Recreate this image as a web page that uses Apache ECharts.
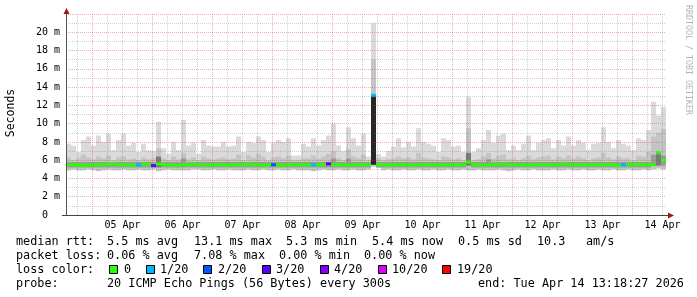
<!DOCTYPE html>
<html><head><meta charset="utf-8">
<script src="https://cdn.jsdelivr.net/npm/echarts@6/dist/echarts.min.js"></script>
<style>html,body{margin:0;padding:0;background:#fff}#c{width:697px;height:297px}</style>
</head><body><div id="c"></div>
<script>
// ---- time frame (hours relative to 05 Apr 00:00) ----
const START_HOUR = -10.6;
const END_HOUR = 229.4;
const STEP_HOURS = 2;
const dayLabels = ['05 Apr','06 Apr','07 Apr','08 Apr','09 Apr','10 Apr','11 Apr','12 Apr','13 Apr','14 Apr'];
const dayLabelHours = [12,36,60,84,108,132,156,180,204,228];

// ---- smoke (ms), one value per 2-hour bucket ----
const smokeMax = [
7.8,7.6,6.9,8.2,8.6,7.6,8.7,8.0,8.9,7.1,8.2,8.9,7.6,7.9,6.9,7.8,7.1,7.0,10.2,7.3,6.7,8.0,7.1,10.4,
7.6,7.9,6.7,8.2,7.6,7.5,7.5,8.0,7.5,7.6,8.6,6.9,8.0,7.9,8.6,8.2,6.9,7.9,8.2,8.0,8.4,6.5,6.5,7.8,
7.5,8.4,7.6,8.2,8.7,10.0,7.6,7.0,9.6,8.4,7.6,8.9,6.4,21.0,6.7,6.4,7.0,7.5,8.4,7.4,8.0,7.5,9.5,8.0,
7.8,7.6,6.9,8.4,8.2,7.5,7.6,6.9,12.9,6.9,7.3,8.2,9.3,7.9,8.7,8.9,7.1,7.6,7.1,7.8,8.7,7.1,7.9,8.2,
8.4,7.3,8.2,7.6,8.6,7.6,8.2,7.9,7.1,7.8,7.9,9.6,8.0,7.3,8.2,7.8,7.6,7.1,8.4,8.2,9.3,12.4,10.9,11.8];
const smokeMin = [
4.9,5.0,4.9,4.9,5.0,4.9,4.8,4.9,5.0,4.9,4.9,5.0,4.9,4.9,5.0,4.9,4.9,5.0,4.8,4.9,5.0,4.9,4.9,4.9,
4.9,5.0,5.0,4.9,4.9,5.0,4.9,4.9,5.0,4.9,4.9,4.9,5.0,4.9,4.9,5.0,4.9,4.9,5.0,4.9,4.9,5.0,4.9,4.9,
4.9,4.8,4.9,5.0,4.9,4.9,5.0,4.9,4.9,5.0,4.9,4.9,5.0,5.3,5.2,4.9,5.0,4.9,4.9,5.0,4.9,4.9,5.0,4.9,
4.9,5.0,4.9,4.9,5.0,4.9,4.9,5.0,4.9,4.9,5.0,4.9,4.9,4.9,5.0,4.9,4.8,4.9,5.0,4.9,4.9,5.0,4.9,4.9,
4.9,5.0,4.9,4.9,5.0,4.9,4.9,5.0,4.9,4.9,5.0,4.9,4.9,5.0,4.9,4.9,5.0,4.9,4.9,5.0,4.9,5.0,5.1,5.0];
const smokeMid = [
6.3,6.0,6.2,6.6,6.3,6.1,6.4,6.2,6.5,6.0,6.3,6.4,6.1,6.2,6.0,6.3,6.1,6.2,7.3,6.2,6.0,6.4,6.1,6.8,
6.1,6.3,6.0,6.4,6.2,6.1,6.2,6.3,6.1,6.2,6.6,6.0,6.5,6.3,6.7,6.4,6.0,6.3,6.4,6.2,6.5,6.0,6.0,6.2,
6.2,6.5,6.2,6.4,6.7,7.0,6.2,6.0,7.2,6.4,6.2,6.6,6.0,17.0,6.2,6.0,6.1,6.2,6.4,6.2,6.3,6.1,6.8,6.3,
6.2,6.1,6.0,6.4,6.3,6.1,6.2,6.0,9.5,6.0,6.1,6.4,6.8,6.2,6.5,6.6,6.1,6.2,6.0,6.2,6.5,6.1,6.3,6.4,
6.5,6.1,6.4,6.2,6.5,6.2,6.4,6.2,6.0,6.2,6.3,6.8,6.3,6.1,6.4,6.2,6.2,6.0,6.5,6.4,6.9,8.6,9.0,9.4];
const innerLo = [
5.2,5.2,5.2,5.2,5.2,5.2,5.2,5.2,5.2,5.2,5.2,5.2,5.2,5.2,5.2,5.2,5.2,5.2,5.2,5.2,5.2,5.2,5.2,5.2,
5.2,5.2,5.2,5.2,5.2,5.2,5.2,5.2,5.2,5.2,5.2,5.2,5.2,5.2,5.2,5.2,5.2,5.2,5.2,5.2,5.2,5.2,5.2,5.2,
5.2,5.2,5.2,5.2,5.2,5.2,5.2,5.2,5.2,5.2,5.2,5.2,5.2,5.5,5.2,5.2,5.2,5.2,5.2,5.2,5.2,5.2,5.2,5.2,
5.2,5.2,5.2,5.2,5.2,5.2,5.2,5.2,5.4,5.2,5.2,5.2,5.2,5.2,5.2,5.2,5.2,5.2,5.2,5.2,5.2,5.2,5.2,5.2,
5.2,5.2,5.2,5.2,5.2,5.2,5.2,5.2,5.2,5.2,5.2,5.2,5.2,5.2,5.2,5.2,5.2,5.2,5.2,5.2,5.2,5.4,5.4,5.4];
const innerHi = [
5.8,5.8,5.8,5.8,5.8,5.8,5.8,5.8,5.8,5.8,5.8,5.8,5.8,5.8,5.8,5.8,5.8,5.8,6.4,5.8,5.8,5.8,5.8,6.2,
5.8,5.8,5.8,5.8,5.8,5.8,5.8,5.8,5.8,5.8,5.8,5.8,5.8,5.8,5.8,5.8,5.8,5.8,5.8,5.8,5.8,5.8,5.8,5.8,
5.8,5.8,5.8,5.8,5.8,6.2,5.8,5.8,6.2,5.8,5.8,5.8,5.8,13.1,5.8,5.8,5.8,5.8,5.8,5.8,5.8,5.8,5.8,5.8,
5.8,5.8,5.8,5.8,5.8,5.8,5.8,5.8,6.8,5.8,5.8,5.8,6.1,5.8,5.8,5.8,5.8,5.8,5.8,5.8,5.8,5.8,5.8,5.8,
5.8,5.8,5.8,5.8,5.8,5.8,5.8,5.8,5.8,5.8,5.8,5.8,5.8,5.8,5.8,5.8,5.8,5.8,5.8,5.8,5.8,6.6,6.9,6.5];
const medianRtt = [
5.5,5.5,5.5,5.4,5.4,5.5,5.5,5.5,5.6,5.6,5.5,5.5,5.5,5.4,5.5,5.6,5.5,5.4,5.6,5.5,5.5,5.4,5.4,5.5,
5.5,5.6,5.5,5.5,5.4,5.5,5.5,5.5,5.4,5.5,5.5,5.5,5.6,5.5,5.5,5.4,5.5,5.5,5.5,5.4,5.5,5.5,5.5,5.5,
5.5,5.5,5.5,5.5,5.6,5.5,5.5,5.5,5.4,5.5,5.5,5.5,5.5,13.1,5.5,5.5,5.4,5.5,5.5,5.5,5.5,5.4,5.5,5.5,
5.5,5.5,5.4,5.5,5.5,5.5,5.5,5.5,5.8,5.5,5.5,5.4,5.5,5.5,5.5,5.6,5.5,5.5,5.5,5.5,5.4,5.5,5.5,5.5,
5.5,5.5,5.5,5.6,5.5,5.5,5.5,5.5,5.5,5.5,5.5,5.5,5.5,5.5,5.4,5.5,5.5,5.5,5.6,5.5,5.5,5.5,6.8,6.0];
const lossCount = [
0,0,0,0,0,0,0,0,0,0,0,0,0,0,1,0,0,3,0,0,0,0,0,0,
0,0,0,0,0,0,0,0,0,0,0,0,0,0,0,0,0,2,0,0,0,0,0,0,
0,1,0,0,3,0,0,0,0,0,0,0,0,1,0,0,0,0,0,0,0,0,0,0,
0,0,0,0,0,0,0,0,0,0,0,0,0,0,0,0,0,0,0,0,0,0,0,0,
0,0,0,0,0,0,0,0,0,0,0,0,0,0,0,1,0,0,0,0,0,0,0,0];

// ---- loss legend ----
const lossThresholds = [0,1,2,3,4,10,19];
const lossLabels = ['0','1/20','2/20','3/20','4/20','10/20','19/20'];
const lossColors = ['#26ff00','#00b8ff','#0059ff','#5e00ff','#7e00ff','#dd00ff','#ff0000'];

// ---- legend text ----
const rttLine = [['median rtt:',16],['5.5 ms avg',107],['13.1 ms max',194],['5.3 ms min',286],['5.4 ms now',372],['0.5 ms sd',458],['10.3',537],['am/s',586]];
const lossLine = [['packet loss:',16],['0.06 % avg',107],['7.08 % max',194],['0.00 % min',279],['0.00 % now',364]];
const probeLine = [['probe:',16],['20 ICMP Echo Pings (56 Bytes) every 300s',107],['end: Tue Apr 14 13:18:27 2026',478]];
const lossBoxX = [109,146,203,262,320,378,442];
const lossLabelX = [124,160,218,276,334,392,457];

const MAJOR_GRID = 'rgba(225,60,60,0.42)';
const MINOR_GRID = 'rgba(110,110,110,0.32)';

function lossColor(n){
  let c = lossColors[0];
  for (let k=0;k<lossThresholds.length;k++) if (n>=lossThresholds[k]) c = lossColors[k];
  return c;
}

const smokeData = smokeMax.map((mx,i)=>[START_HOUR+i*STEP_HOURS, START_HOUR+(i+1)*STEP_HOURS, smokeMin[i], smokeMid[i], innerLo[i], innerHi[i], mx]);
const medianData = medianRtt.map((m,i)=>[START_HOUR+i*STEP_HOURS, START_HOUR+(i+1)*STEP_HOURS, m, lossCount[i]]);

function band(api, t0, t1, lo, hi){
  const a = api.coord([t0, hi]); const b = api.coord([t1, lo]);
  return {x:a[0], y:a[1], width:b[0]-a[0], height:b[1]-a[1]};
}
function renderSmoke(params, api){
  const t0=api.value(0), t1=api.value(1);
  const lo=api.value(2), mid=api.value(3), il=api.value(4), ih=api.value(5), mx=api.value(6);
  const span = ih-il;
  const innerFill = span > 4 ? '#262626' : (span > 1.2 ? '#7a7a7a' : '#9c9c9c');
  return {type:'group', children:[
    {type:'rect', shape:band(api,t0,t1,lo,mx), style:{fill:'#dadada'}},
    {type:'rect', shape:band(api,t0,t1,lo,mid), style:{fill:'#c4c4c4'}},
    {type:'rect', shape:band(api,t0,t1,il,ih), style:{fill:innerFill}}
  ]};
}
function renderMedian(params, api){
  const a = api.coord([api.value(0), api.value(2)]);
  const b = api.coord([api.value(1), api.value(2)]);
  return {type:'rect', shape:{x:a[0], y:a[1]-1.5, width:b[0]-a[0], height:3}, style:{fill:lossColor(api.value(3))}};
}

const vGrid = [];
for (let h=-6; h<=END_HOUR; h+=6){
  const major = (h % 24) === 0;
  vGrid.push({xAxis:h, lineStyle:{color: major ? MAJOR_GRID : MINOR_GRID, type:[1,1], width:1, opacity:1}});
}

const MONO = 'DejaVu Sans Mono';
const graphics = [];
function txt(s,x,y){ graphics.push({type:'text', x:x, y:y, silent:true, z:100, style:{text:s, fontFamily:MONO, fontSize:11.8, fill:'#000', verticalAlign:'middle', align:'left'}}); }
rttLine.forEach(([s,x])=>txt(s,x,242));
lossLine.forEach(([s,x])=>txt(s,x,256));
txt('loss color:',16,270);
lossLabels.forEach((s,k)=>{
  txt(s,lossLabelX[k],270);
  graphics.push({type:'rect', silent:true, z:100, shape:{x:lossBoxX[k]+0.5, y:265.5, width:8, height:8}, style:{fill:lossColors[k], stroke:'#000', lineWidth:1}});
});
probeLine.forEach(([s,x])=>txt(s,x,284));
graphics.push({type:'text', x:11, y:113, rotation:Math.PI/2, silent:true, style:{text:'Seconds', fontFamily:MONO, fontSize:11.5, fill:'#000', align:'center', verticalAlign:'middle'}});
graphics.push({type:'text', x:688, y:5, rotation:-Math.PI/2, silent:true, style:{text:'RRDTOOL / TOBI OETIKER', fontFamily:MONO, fontSize:8.3, fill:'#b4b4b4', align:'left', verticalAlign:'middle'}});
graphics.push({type:'line', silent:true, z:50, shape:{x1:62, y1:215.5, x2:669, y2:215.5}, style:{stroke:'#444', lineWidth:1}});
graphics.push({type:'line', silent:true, z:50, shape:{x1:66.5, y1:215, x2:66.5, y2:11}, style:{stroke:'#555', lineWidth:1}});
graphics.push({type:'polygon', silent:true, z:51, shape:{points:[[674,215.5],[668,212.5],[668,218.5]]}, style:{fill:'#a31515'}});
graphics.push({type:'polygon', silent:true, z:51, shape:{points:[[66.5,8],[63.5,14],[69.5,14]]}, style:{fill:'#a31515'}});

const chart = echarts.init(document.getElementById('c'), null, {renderer:'canvas'});
chart.setOption({
  animation:false,
  backgroundColor:'#ffffff',
  grid:{left:66, top:14, width:600, height:201, containLabel:false},
  xAxis:{type:'value', min:START_HOUR, max:END_HOUR, z:4,
    axisLine:{show:false}, axisTick:{show:false}, splitLine:{show:false},
    axisLabel:{customValues:dayLabelHours, formatter:(v)=>dayLabels[dayLabelHours.indexOf(v)] || '',
      fontFamily:MONO, fontSize:10, color:'#000', margin:5}},
  yAxis:{type:'value', min:0, max:22, interval:2, z:4,
    axisLine:{show:false}, axisTick:{show:false},
    axisLabel:{formatter:(v)=> v===0 ? '0  ' : v+' m', fontFamily:MONO, fontSize:10, color:'#000', margin:6, showMaxLabel:false},
    splitLine:{show:true, lineStyle:{color:MAJOR_GRID, type:[1,1], width:1}},
    minorTick:{show:false, splitNumber:2},
    minorSplitLine:{show:true, lineStyle:{color:MINOR_GRID, type:[1,1], width:1}}},
  series:[
    {type:'custom', name:'smoke', renderItem:renderSmoke, data:smokeData, encode:{x:[0,1], y:[2,6]}, z:2, silent:true, clip:true},
    {type:'line', name:'grid', data:[[START_HOUR,0]], showSymbol:false, lineStyle:{opacity:0}, z:5, silent:true,
      markLine:{silent:true, symbol:'none', label:{show:false}, animation:false, data:vGrid}},
    {type:'custom', name:'median', renderItem:renderMedian, data:medianData, encode:{x:[0,1], y:2}, z:6, silent:true, clip:true}
  ],
  graphic:graphics
});
</script></body></html>
